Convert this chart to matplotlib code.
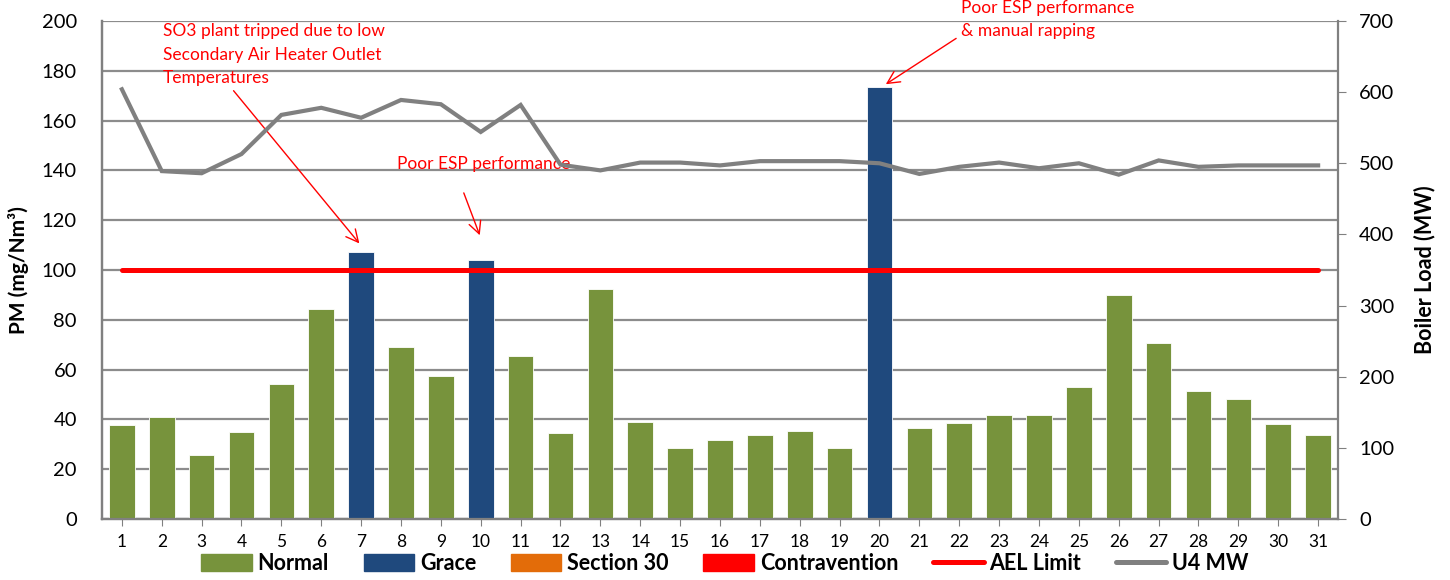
import matplotlib
matplotlib.use("Agg")
import matplotlib.pyplot as plt
from matplotlib.patches import Patch
from matplotlib.lines import Line2D

plt.rcParams['font.family'] = ['Lato', 'DejaVu Sans']

# daily PM emissions and unit load
days = list(range(1, 32))
pm = [37.6, 41.1, 25.6, 35.1, 54.2, 84.5, 107.3, 69.2, 57.6, 103.9,
      65.5, 34.4, 92.2, 38.8, 28.4, 31.9, 33.7, 35.5, 28.4, 173.5,
      36.5, 38.6, 41.9, 41.8, 53.1, 90.1, 70.5, 51.4, 48.3, 38.0, 33.7]
status = ['N'] * 31
for d in (7, 10, 20):
    status[d - 1] = 'G'
mw = [604, 489, 486, 513, 568, 578, 564, 589, 583, 544,
      582, 498, 490, 501, 501, 497, 503, 503, 503, 500,
      485, 495, 501, 493, 500, 484, 504, 495, 497, 497, 497]
ael_limit = [100] * 31

GREEN = '#77933C'
BLUE = '#1F497D'
ORANGE = '#E36C09'
RED = '#FF0000'
GREY = '#808080'

fig = plt.figure(figsize=(14.5, 5.8), dpi=100)
ax = fig.add_axes([0.0703, 0.1052, 0.8525, 0.8586])
ax2 = ax.twinx()

colors = [GREEN if s == 'N' else BLUE for s in status]
ax.bar(days, pm, width=0.64, color=colors, edgecolor='white', linewidth=0.6, zorder=3)
ax.plot(days, ael_limit, color=RED, lw=3.6, solid_capstyle='round', zorder=4)
ax2.plot(days, mw, color=GREY, lw=3.0, solid_joinstyle='miter', zorder=5)

ax.set_xlim(0.5, 31.5)
ax.set_ylim(0, 200)
ax.set_yticks(range(0, 201, 20))
ax.set_xticks(days)
ax.tick_params(axis='x', labelsize=12.5, length=5, color=GREY, pad=6)
ax.tick_params(axis='y', labelsize=14.5, length=0, pad=18)
ax.yaxis.grid(True, color='#8C8C8C', lw=1.6, zorder=0)
ax.set_axisbelow(True)
ax.set_ylabel('PM (mg/Nm³)', fontsize=15, fontweight='bold', labelpad=9)

ax2.set_ylim(0, 700)
ax2.set_yticks(range(0, 701, 100))
ax2.tick_params(axis='y', labelsize=14.5, length=6, color=GREY, pad=9)
ax2.set_ylabel('Boiler Load (MW)', fontsize=15.5, fontweight='bold', labelpad=14)

for a in (ax, ax2):
    a.spines['top'].set_visible(False)
    for side in ('left', 'right', 'bottom'):
        a.spines[side].set_color(GREY)
        a.spines[side].set_linewidth(1.6)
ax.spines['right'].set_visible(False)

# event notes
arrow = dict(arrowstyle='->', color=RED, lw=1.0, mutation_scale=22)
note_font = dict(fontsize=12.5, color=RED, linespacing=1.55)
ax.annotate('SO3 plant tripped due to low\nSecondary Air Heater Outlet\nTemperatures',
            xy=(7, pm[6] + 2.5), xytext=(2.03, 199), textcoords='data',
            va='top', ha='left', **note_font,
            arrowprops=dict(arrow, relpos=(0.3, 0.0)), zorder=6)
ax.annotate('Poor ESP performance', xy=(10, pm[9] + 9), xytext=(10.07, 139.5),
            va='bottom', ha='center', zorder=6, **note_font)
ax.annotate('', xy=(10, pm[9] + 9), xytext=(9.55, 132),
            arrowprops=arrow, zorder=6)
ax.annotate('Poor ESP performance\n& manual rapping', xy=(20.1, pm[19] + 0.5),
            xytext=(22.05, 208.5), va='top', ha='left', **note_font,
            arrowprops=dict(arrow, relpos=(0.0, 0.1)),
            annotation_clip=False, zorder=6)

handles = [Patch(color=GREEN), Patch(color=BLUE), Patch(color=ORANGE), Patch(color=RED),
           Line2D([], [], color=RED, lw=3.6, solid_capstyle='round'),
           Line2D([], [], color=GREY, lw=3.6, solid_capstyle='round')]
labels = ['Normal', 'Grace', 'Section 30', 'Contravention', 'AEL Limit', 'U4 MW']
fig.legend(handles, labels, loc='center', bbox_to_anchor=(0.5, 0.028), ncol=6,
           frameon=False, prop={'size': 15.5, 'weight': 'bold'},
           handlelength=2.35, handleheight=0.85, handletextpad=0.28, columnspacing=1.6)

fig.savefig('out.png', dpi=100)
